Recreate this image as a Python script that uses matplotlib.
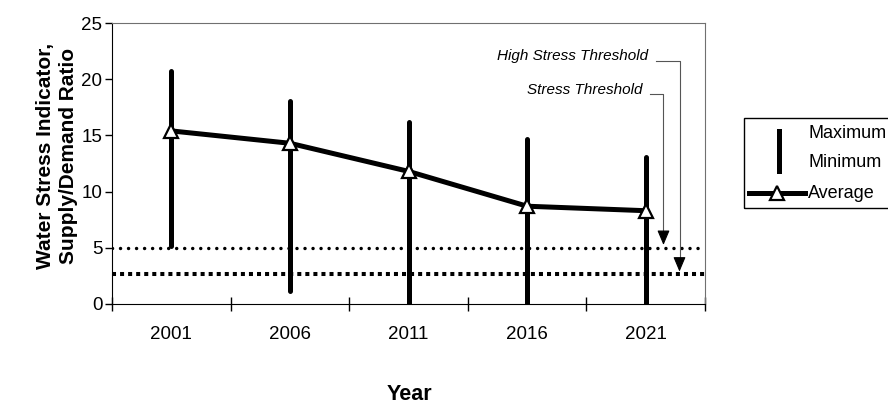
import matplotlib
matplotlib.use("Agg")
import matplotlib.pyplot as plt
from matplotlib.lines import Line2D
from matplotlib.patches import Rectangle
import numpy as np

plt.rcParams['font.family'] = ['Liberation Sans', 'DejaVu Sans']

years = ["2001", "2006", "2011", "2016", "2021"]
maximum = [20.7, 18.1, 16.2, 14.7, 13.1]
minimum = [5.2, 1.2, 0.0, 0.0, 0.0]
average = [15.4, 14.3, 11.8, 8.7, 8.3]

stress_threshold = 5.0
high_stress_threshold = 2.65

fig = plt.figure(figsize=(8.88, 4.03), dpi=100)
ax = fig.add_axes([112/888, 1 - 304/403, 593/888, 281/403])

x = np.arange(len(years))

# threshold lines
ax.axhline(stress_threshold, color='black', lw=2.5, ls=(0, (0.01, 2.3)),
           dash_capstyle='round', zorder=1)
ax.axhline(high_stress_threshold, color='black', lw=2.9, ls=(0, (1, 1)),
           dash_capstyle='butt', zorder=1)

# max / min bars
ax.vlines(x, minimum, maximum, color='black', lw=3.6, capstyle='round', zorder=2)

# average line
ax.plot(x, average, color='black', lw=3.6, marker='^', ms=10,
        mfc='white', mec='black', mew=1.6, zorder=3)

ax.set_xlim(-0.5, 4.5)
ax.set_ylim(0, 25)
ax.set_yticks(range(0, 26, 5))
ax.set_xticks(np.arange(-0.5, 5, 1))
ax.set_xticklabels([])
ax.set_xticks(x, minor=True)
ax.set_xticklabels(years, minor=True)
ax.tick_params(axis='x', which='major', direction='inout', length=10, width=1)
ax.tick_params(axis='x', which='minor', length=0, labelsize=13.5, pad=16)
ax.tick_params(axis='y', direction='out', length=5, width=1, labelsize=13.5, pad=2)

for s in ['top', 'right']:
    ax.spines[s].set_color('#707070')
for s in ['left', 'bottom']:
    ax.spines[s].set_color('black')

# threshold annotations
ax.text(4.02, 22.1, "High Stress Threshold", style='italic', fontsize=11,
        ha='right', va='center')
ax.text(3.97, 19.0, "Stress Threshold", style='italic', fontsize=11,
        ha='right', va='center')
ax.plot([4.09, 4.285, 4.285], [21.65, 21.65, 3.6], color='#555555', lw=0.8,
        clip_on=False)
ax.plot([4.04, 4.15, 4.15], [18.68, 18.68, 6.0], color='#555555', lw=0.8,
        clip_on=False)
ax.annotate('', xy=(4.285, 2.88), xytext=(4.285, 4.0),
            arrowprops=dict(arrowstyle='-|>,head_length=0.9,head_width=0.38',
                            color='black', lw=0.8, shrinkA=0, shrinkB=0))
ax.annotate('', xy=(4.15, 5.25), xytext=(4.15, 6.4),
            arrowprops=dict(arrowstyle='-|>,head_length=0.9,head_width=0.38',
                            color='black', lw=0.8, shrinkA=0, shrinkB=0))

# axis labels
fig.text(57/888, 1 - 156/403, "Water Stress Indicator,\nSupply/Demand Ratio",
         rotation=90, ha='center', va='center', fontsize=15,
         fontweight='bold', multialignment='center', linespacing=1.25)
fig.text(409/888, 1 - 394/403, "Year", ha='center', va='center',
         fontsize=15.5, fontweight='bold')

# legend
fig.patches.append(Rectangle((744/888, 1 - 208/403), 200/888, 90/403,
                             transform=fig.transFigure, fill=False,
                             edgecolor='black', lw=1, clip_on=False))
fig.lines.append(Line2D([779/888, 779/888], [1 - 131/403, 1 - 171/403],
                        transform=fig.transFigure, color='black', lw=3.6))
fig.lines.append(Line2D([749/888, 805/888], [1 - 193/403, 1 - 193/403],
                        transform=fig.transFigure, color='black', lw=3.6))
fig.lines.append(Line2D([777/888], [1 - 193/403], transform=fig.transFigure,
                        marker='^', ms=10, mfc='white', mec='black', mew=1.6,
                        ls='none'))
for lab, py in [("Maximum", 133), ("Minimum", 163), ("Average", 193)]:
    fig.text(808/888, 1 - py/403, lab, ha='left', va='center', fontsize=13)

fig.savefig("out.png", dpi=100)
